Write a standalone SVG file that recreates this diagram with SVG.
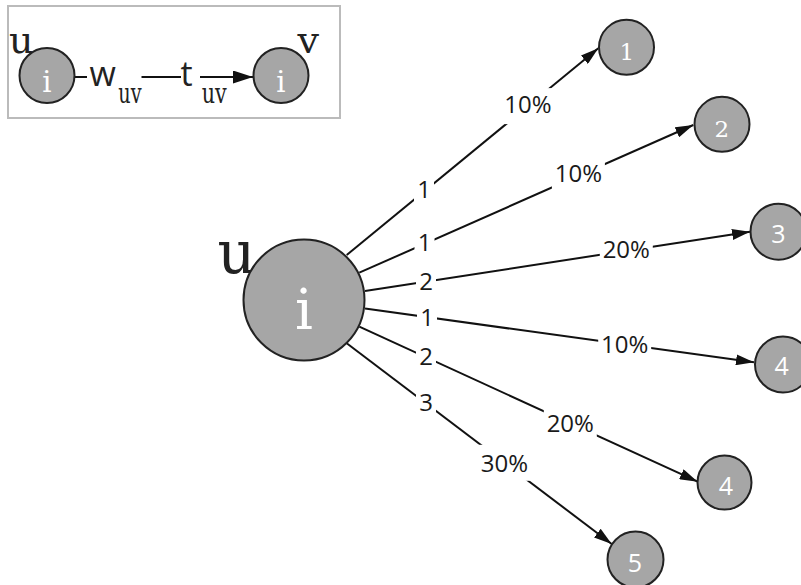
<svg xmlns="http://www.w3.org/2000/svg" width="801" height="585" viewBox="0 0 801 585">
<style>
.nd{fill:#a6a6a6;stroke:#222;stroke-width:2}
.ed{stroke:#111;stroke-width:2;fill:none}
.bg{fill:#fff}
.lb{font-family:"Open Sans","Noto Sans",sans-serif;font-size:24px;fill:#1a1a1a;text-anchor:middle}
.sf{font-family:"DejaVu Serif",serif;fill:#222}
.wi{font-family:"DejaVu Serif",serif;fill:#fff;text-anchor:middle}
.ws{font-family:"Open Sans","Noto Sans",sans-serif;fill:#fff;text-anchor:middle;font-size:25px}
.sn{font-family:"Open Sans","Noto Sans",sans-serif;fill:#222;font-size:34px}
</style>
<defs>
<marker id="ah" markerUnits="userSpaceOnUse" markerWidth="18" markerHeight="11" refX="18" refY="5.5" orient="auto">
<path d="M0,0 L18,5.5 L0,11 z" fill="#111"/>
</marker>
<marker id="ahL" markerUnits="userSpaceOnUse" markerWidth="20" markerHeight="13" refX="20" refY="6.5" orient="auto">
<path d="M0,0 L20,6.5 L0,13 z" fill="#111"/>
</marker>
</defs>
<rect x="0" y="0" width="801" height="585" fill="#fff"/>

<g id="legend">
<rect x="8" y="6" width="332" height="112" fill="#fff" stroke="#bbb" stroke-width="2"/>
<line class="ed" x1="74" y1="77" x2="253" y2="77" marker-end="url(#ahL)"/>
<rect class="bg" x="87" y="60" width="54.5" height="46"/>
<rect class="bg" x="181" y="62" width="19" height="24"/>
<text class="sn" x="89.5" y="86">w</text>
<text class="sf" x="118.3" y="103.3" font-size="28" textLength="23.3" lengthAdjust="spacingAndGlyphs">uv</text>
<text class="sn" x="180.5" y="86">t</text>
<text class="sf" x="201.7" y="103.3" font-size="28" textLength="25" lengthAdjust="spacingAndGlyphs">uv</text>
<text class="sf" x="9" y="53.3" font-size="38">u</text>
<text class="sf" x="297.5" y="53.3" font-size="38">v</text>
<g id="legend-u">
<circle class="nd" cx="47" cy="75.5" r="27.5"/>
<text class="wi" x="47" y="91.7" font-size="29">i</text>
</g>
<g id="legend-v">
<circle class="nd" cx="281" cy="75.5" r="27.5"/>
<text class="wi" x="281" y="91.7" font-size="29">i</text>
</g>
</g>

<g id="connectors">
<line class="ed" x1="346.7" y1="255" x2="598.3" y2="48.3" marker-end="url(#ah)"/>
<line class="ed" x1="359.3" y1="272.7" x2="693.3" y2="125" marker-end="url(#ah)"/>
<line class="ed" x1="365" y1="291" x2="750" y2="231.7" marker-end="url(#ah)"/>
<line class="ed" x1="365" y1="308.6" x2="754" y2="362.3" marker-end="url(#ah)"/>
<line class="ed" x1="359.3" y1="326.7" x2="697.7" y2="481.7" marker-end="url(#ah)"/>
<line class="ed" x1="346.7" y1="343.3" x2="611.7" y2="544" marker-end="url(#ah)"/>

<rect class="bg" x="414" y="173.5" width="20" height="36"/>
<text class="lb" x="424" y="198">1</text>
<rect class="bg" x="501.5" y="88.1" width="53" height="36"/>
<text class="lb" x="528" y="112.7">10%</text>

<rect class="bg" x="414.5" y="225.9" width="20" height="36"/>
<text class="lb" x="424.5" y="251">1</text>
<rect class="bg" x="551.9" y="157.8" width="53" height="36"/>
<text class="lb" x="578.4" y="181.7">10%</text>

<rect class="bg" x="416" y="263.6" width="20" height="36"/>
<text class="lb" x="426" y="290">2</text>
<rect class="bg" x="599.8" y="232.8" width="53" height="36"/>
<text class="lb" x="626.3" y="258.3">20%</text>

<rect class="bg" x="417" y="299" width="20" height="36"/>
<text class="lb" x="427" y="325.7">1</text>
<rect class="bg" x="598.2" y="326.4" width="53" height="36"/>
<text class="lb" x="624.7" y="353.3">10%</text>

<rect class="bg" x="416" y="339.2" width="20" height="36"/>
<text class="lb" x="426" y="365">2</text>
<rect class="bg" x="543.8" y="405.3" width="53" height="36"/>
<text class="lb" x="570.3" y="432.3">20%</text>

<rect class="bg" x="416" y="385.4" width="20" height="36"/>
<text class="lb" x="426" y="410.7">3</text>
<rect class="bg" x="478" y="444.8" width="53" height="36"/>
<text class="lb" x="504.5" y="472.3">30%</text>
</g>

<g id="node-u">
<text class="sf" x="217.5" y="273.3" font-size="59">u</text>
<circle class="nd" cx="304" cy="300" r="60.5"/>
<text class="wi" x="304" y="329" font-size="56">i</text>
</g>
<g id="node-1">
<circle class="nd" cx="626.5" cy="47.3" r="27.5"/>
<text class="wi" x="626.7" y="60" font-size="23">1</text>
</g>
<g id="node-2">
<circle class="nd" cx="722" cy="124.3" r="27.5"/>
<text class="wi" x="721.7" y="136.7" font-size="23">2</text>
</g>
<g id="node-3">
<circle class="nd" cx="778.5" cy="231.7" r="28"/>
<text class="ws" x="778.3" y="243.3">3</text>
</g>
<g id="node-4a">
<circle class="nd" cx="783" cy="364.5" r="28"/>
<text class="ws" x="781.7" y="375">4</text>
</g>
<g id="node-4b">
<circle class="nd" cx="724.5" cy="482.6" r="27"/>
<text class="ws" x="726" y="495">4</text>
</g>
<g id="node-5">
<circle class="nd" cx="635.5" cy="559.5" r="28"/>
<text class="ws" x="635" y="572.3">5</text>
</g>
</svg>
